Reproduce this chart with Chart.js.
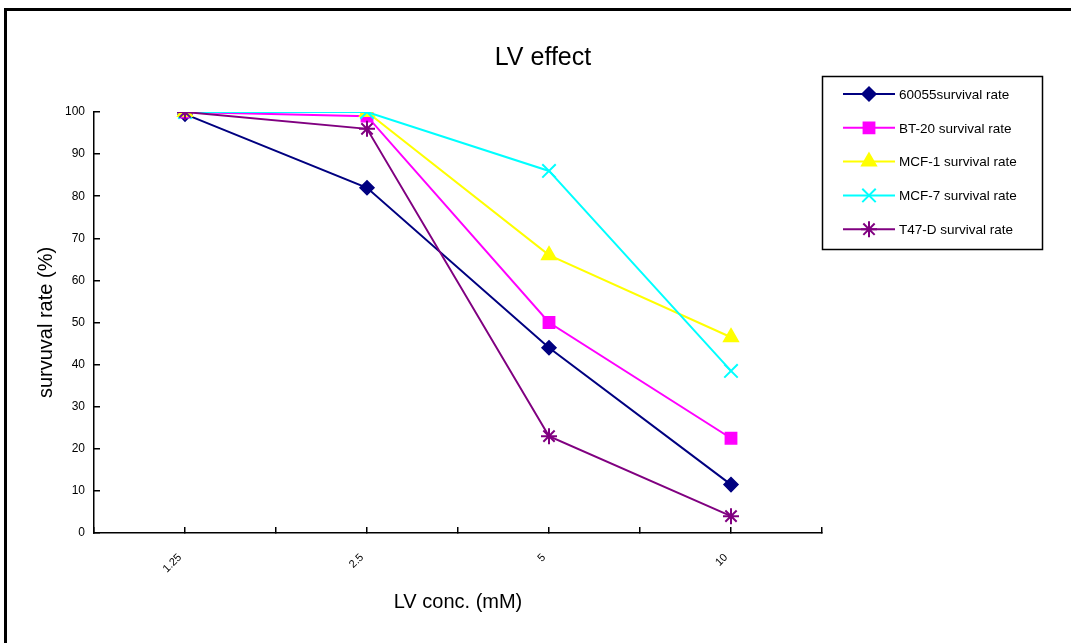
<!DOCTYPE html>
<html>
<head>
<meta charset="utf-8">
<script src="https://cdn.jsdelivr.net/npm/chart.js@4"></script>
<style>
  html, body { margin: 0; padding: 0; background: #fff; }
  #wrap { position: relative; width: 1071px; height: 643px; overflow: hidden; }
  #frame {
    position: absolute; left: 4px; top: 8px; width: 1100px; height: 700px;
    border-left: 3px solid #000; border-top: 3px solid #000; pointer-events: none;
  }
</style>
</head>
<body>
<div id="wrap">
  <canvas id="c" width="1071" height="643"></canvas>
  <div id="frame"></div>
</div>
<script>
// 데이터
const concLabels = ['1.25', '2.5', '5', '10'];
const seriesNames = ['60055survival rate', 'BT-20 survival rate', 'MCF-1 survival rate', 'MCF-7 survival rate', 'T47-D survival rate'];
const s60055 = [99.5, 82, 44, 11.5];
const sBT20  = [100, 99, 50, 22.5];
const sMCF1  = [100, 100, 66, 46.5];
const sMCF7  = [100, 100, 86, 38.5];
const sT47D  = [100, 96, 23, 4];
const yTicks = [0, 10, 20, 30, 40, 50, 60, 70, 80, 90, 100];

const seriesValues = [s60055, sBT20, sMCF1, sMCF7, sT47D];
const colors = ['#000080', '#ff00ff', '#ffff00', '#00ffff', '#800080'];
const styles = ['rectRot', 'rect', 'triangle', 'crossRot', 'star'];
const radii  = [7, 8, 8.5, 9.5, 8];
const pointWidths = [1.5, 1.5, 1.5, 2, 2];

// 카테고리 i -> x = 2i+1 (0..8 축, 눈금은 반 구간마다)
const toPoints = vals => vals.map((v, i) => ({ x: i * 2 + 1, y: v }));

const datasets = seriesValues.map((vals, i) => ({
  label: seriesNames[i],
  data: toPoints(vals),
  borderColor: colors[i],
  backgroundColor: colors[i],
  borderWidth: 2,
  pointStyle: styles[i],
  pointRadius: radii[i],
  pointBackgroundColor: colors[i],
  pointBorderColor: colors[i],
  pointBorderWidth: pointWidths[i],
  tension: 0,
  order: seriesValues.length - i,
}));

// 제목 + 범례 박스
const decor = {
  id: 'decor',
  afterDraw(chart) {
    const c = chart.ctx;
    c.save();
    c.fillStyle = '#000';
    c.font = '25px "Liberation Sans", Arial, sans-serif';
    c.textAlign = 'center';
    c.textBaseline = 'middle';
    c.fillText('LV effect', 543, 58);

    c.strokeStyle = '#000';
    c.lineWidth = 1.5;
    c.strokeRect(822.5, 76.5, 220, 173);

    c.font = '13.5px "Liberation Sans", Arial, sans-serif';
    c.textAlign = 'left';
    chart.data.datasets.forEach((ds, i) => {
      const y = 94 + i * 33.8;
      c.strokeStyle = ds.borderColor;
      c.lineWidth = 2;
      c.beginPath();
      c.moveTo(843, y);
      c.lineTo(895, y);
      c.stroke();
      c.fillStyle = ds.pointBackgroundColor;
      c.strokeStyle = ds.pointBorderColor;
      c.lineWidth = ds.pointBorderWidth;
      Chart.helpers.drawPoint(c, { pointStyle: ds.pointStyle, radius: ds.pointRadius, rotation: 0, borderWidth: ds.pointBorderWidth }, 869, y);
      c.fillStyle = '#000';
      c.fillText(ds.label, 899, y + 1);
    });
    c.restore();
  }
};

new Chart(document.getElementById('c'), {
  type: 'line',
  data: { datasets },
  options: {
    responsive: false,
    animation: false,
    layout: { padding: { left: 0, top: 112, right: 249, bottom: 0 } },
    plugins: {
      legend: { display: false },
      title: { display: false },
      tooltip: { enabled: false },
    },
    scales: {
      x: {
        type: 'linear',
        min: 0,
        max: 8,
        afterFit(scale) { scale.height = 110; },
        grid: { drawOnChartArea: false, tickLength: -6, color: '#000', lineWidth: 1.5 },
        border: { display: true, color: '#000', width: 1.5 },
        ticks: {
          stepSize: 1,
          autoSkip: false,
          minRotation: 45,
          maxRotation: 45,
          padding: 24,
          labelOffset: -5,
          color: '#000',
          font: { size: 11, family: '"Liberation Sans", Arial, sans-serif' },
          callback(v) {
            return (Number.isInteger(v) && v % 2 === 1) ? concLabels[(v - 1) / 2] : '';
          }
        },
        title: {
          display: true,
          text: 'LV conc. (mM)',
          color: '#000',
          font: { size: 20, family: '"Liberation Sans", Arial, sans-serif' },
          padding: { top: 0, bottom: 29 }
        }
      },
      y: {
        min: 0,
        max: 100,
        afterFit(scale) { scale.width = 94; },
        afterBuildTicks(scale) { scale.ticks = yTicks.map(v => ({ value: v })); },
        grid: { drawOnChartArea: false, tickLength: -6, color: '#000', lineWidth: 1.5 },
        border: { display: true, color: '#000', width: 1.5 },
        ticks: {
          padding: 15,
          color: '#000',
          font: { size: 12, family: '"Liberation Sans", Arial, sans-serif' },
        },
        title: {
          display: true,
          text: 'survuval rate (%)',
          color: '#000',
          font: { size: 20, family: '"Liberation Sans", Arial, sans-serif' },
          padding: { top: 34, bottom: 0 }
        }
      }
    }
  },
  plugins: [decor]
});
</script>
</body>
</html>
